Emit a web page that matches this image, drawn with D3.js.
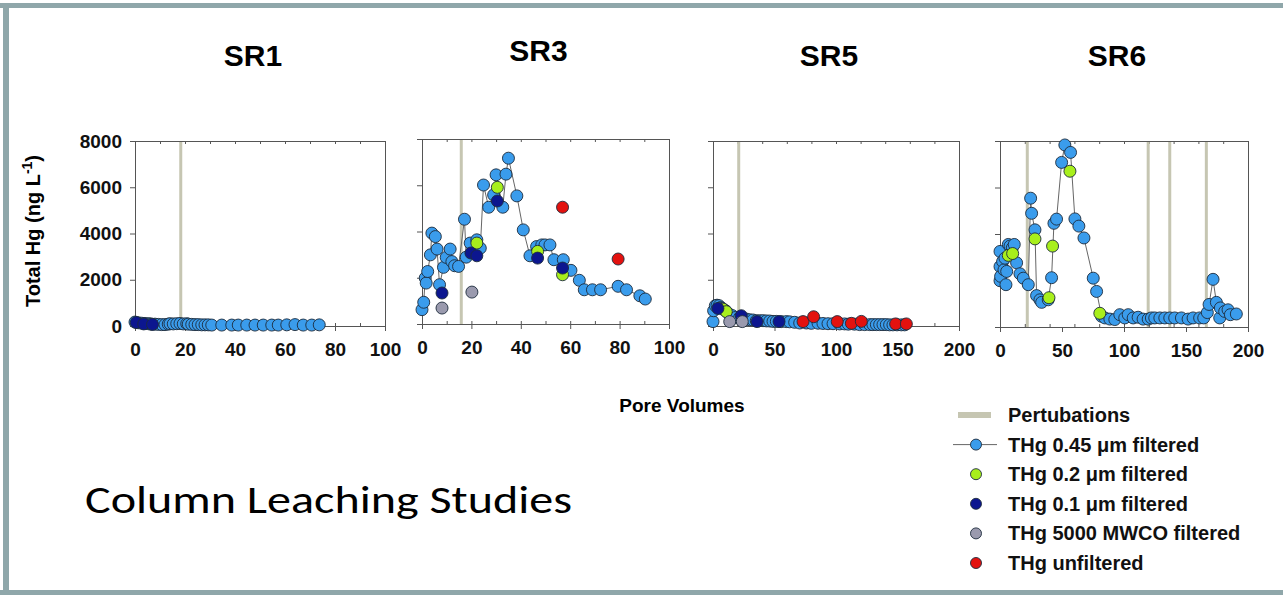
<!DOCTYPE html>
<html>
<head>
<meta charset="utf-8">
<script src="https://cdn.jsdelivr.net/npm/d3@7"></script>
<style>
  body { margin: 0; background: #fff; }
  svg { display: block; font-family: "Liberation Sans", Arial, sans-serif; }
</style>
</head>
<body>
<div id="chart"></div>
<script>
// ---- data: [pore volumes, THg ng/L] ----
const sr1_045 = [[0,170],[1.3,140],[2.7,120],[4,110],[5.3,100],[6,90],[6.7,80],[8,80],[9.3,70],[10.7,60],[12,60],[13.3,80],[14,100],[15.3,90],[16.7,100],[18,110],[19.3,90],[20.7,100],[21.3,80],[22.7,70],[24,60],[25.3,60],[26.7,50],[28,50],[29.3,50],[30.7,40],[34.7,40],[38.7,40],[41.3,40],[44.7,40],[48,40],[51.3,40],[54.7,40],[57.3,40],[60.7,50],[64,60],[67.3,40],[70.7,40],[73.7,50]];
const sr1_01 = [[0.5,150],[3.5,90],[7,70]];
const sr1_pert = [18.3];

const sr3_045 = [[0,620],[0.7,940],[1.3,1990],[1.7,1770],[2.3,2270],[3.4,2990],[4,3930],[5.4,3780],[6.1,3240],[7.1,1700],[8.7,2450],[9.8,2880],[11.4,3240],[12.1,2700],[13.2,2520],[14.8,2490],[17.2,4530],[17.9,2890],[19.5,3500],[22.2,3640],[23.6,3280],[24.9,6010],[27,5050],[29,5580],[30,6450],[32.7,5050],[34,6480],[35,7170],[38.4,5540],[41,4070],[43.7,2950],[46.4,3350],[48.5,3420],[49.8,3420],[51.8,3420],[53.4,2780],[57.2,2780],[60.3,2320],[63.7,1890],[65.7,1480],[69,1480],[72.3,1480],[79.4,1630],[82.8,1480],[88.2,1220],[90.4,1080]];
const sr3_02 = [[22.2,3500],[30.5,5910],[46.8,3140],[56.9,2130]];
const sr3_01 = [[8.1,1340],[19.8,3070],[22.2,2950],[30.5,5320],[46.8,2850],[56.9,2420]];
const sr3_5000 = [[8.1,690],[20.2,1380]];
const sr3_unf = [[56.9,5050],[79.4,2810]];
const sr3_pert = [15.9];

const sr5_045 = [[0,190],[0.5,660],[1.9,880],[3.3,900],[4.9,880],[6.2,800],[7.6,760],[10.3,660],[13,520],[15.7,450],[18.4,370],[21.7,370],[24.4,330],[27.1,300],[29.8,270],[32.5,260],[35.2,230],[38,230],[40.7,230],[43.4,220],[46.1,215],[48.8,200],[51.5,200],[55.6,190],[59.6,190],[62.3,180],[66.4,160],[70.5,130],[75.9,130],[79.9,115],[85.4,120],[89.4,110],[93.5,100],[97.6,100],[103,90],[107,90],[110,80],[115,80],[119.2,60],[123.3,60],[127.4,60],[130,60],[132.8,60],[135.5,60],[138.2,60],[140.9,60],[143.6,50],[146.3,50],[149.6,50],[153.1,50],[155.8,50]];
const sr5_02 = [[8.1,730],[10.8,620]];
const sr5_01 = [[4,760],[23,445],[35.8,190],[53.7,190]];
const sr5_5000 = [[13.6,190],[23.8,190]];
const sr5_unf = [[73.2,190],[81.8,400],[101,190],[112.5,115],[120.6,200],[148.5,90],[157.2,90]];
const sr5_pert = [20.9];

const sr6_045 = [[0,3250],[0,1990],[0,2600],[0.5,2180],[2.1,2820],[3.2,2460],[4,2960],[4.8,1820],[5.4,2390],[6.7,3550],[8.1,3480],[9.9,3400],[11.5,3550],[13.4,2760],[16.1,2290],[18.8,2100],[22.8,1820],[24.7,5540],[25.5,4890],[28.2,4180],[29.5,1350],[32.2,1170],[33.6,1060],[38.9,1170],[41.6,2120],[43.5,4460],[45.6,4640],[49.7,7080],[52.3,7830],[56.9,7510],[60.4,4650],[63.6,4340],[67.7,3830],[75.2,2100],[77.9,1530],[81.9,460],[84.6,390],[88.6,340],[92.6,320],[96.6,530],[100.6,390],[103.4,530],[107.4,390],[111.4,420],[115.4,340],[119.5,340],[122.1,390],[124.8,390],[128.9,390],[132.9,390],[136.9,390],[140.9,390],[146.3,390],[151.7,340],[155.7,390],[161,390],[164.3,390],[167.2,620],[168.6,970],[171.8,2050],[174.5,1060],[177.2,390],[177.7,820],[181.2,670],[183.9,740],[185.8,530],[190.6,560]];
const sr6_02 = [[6.7,3080],[10.2,3160],[28.2,3790],[39.5,1260],[42.4,3480],[56.4,6700],[80.5,590]];
const sr6_pert = [22, 119.5, 136.9, 166.4];

const yTicks = [0, 2000, 4000, 6000, 8000];
const xTicks100 = [0, 20, 40, 60, 80, 100];
const xTicks200 = [0, 50, 100, 150, 200];
const legendLabels = ['Pertubations', 'THg 0.45 \u03bcm filtered', 'THg 0.2 \u03bcm filtered',
  'THg 0.1 \u03bcm filtered', 'THg 5000 MWCO filtered', 'THg unfiltered'];

// ---- styles ----
const colors = { f045: '#3a9cec', f02: '#a8ef1c', f01: '#0c168f', f5000: '#9a9aae', unf: '#e3120f' };
const pertColor = '#c6c6b2';

const W = 1283, H = 595;
const svg = d3.select('#chart').append('svg').attr('width', W).attr('height', H);

// slide frame
svg.append('rect').attr('x', 0).attr('y', 3).attr('width', W).attr('height', 5).attr('fill', '#8fa7aa');
svg.append('rect').attr('x', 3).attr('y', 3).attr('width', 6).attr('height', H - 3).attr('fill', '#8fa7aa');
svg.append('rect').attr('x', 0).attr('y', 590).attr('width', W).attr('height', 5).attr('fill', '#8fa7aa');

const panels = [
  { name: 'SR1', left: 135, right: 385, top: 141, bottom: 326, xMax: 100, ticks: xTicks100, minor: 10, titleY: 66,
    pert: sr1_pert, main: sr1_045, extra: [[sr1_01, colors.f01]] },
  { name: 'SR3', left: 422, right: 669, top: 139, bottom: 324, xMax: 100, ticks: xTicks100, minor: 10, titleY: 61,
    pert: sr3_pert, main: sr3_045,
    extra: [[sr3_02, colors.f02], [sr3_01, colors.f01], [sr3_5000, colors.f5000], [sr3_unf, colors.unf]] },
  { name: 'SR5', left: 713, right: 959, top: 141, bottom: 326, xMax: 200, ticks: xTicks200, minor: 20, titleY: 66,
    pert: sr5_pert, main: sr5_045,
    extra: [[sr5_02, colors.f02], [sr5_01, colors.f01], [sr5_5000, colors.f5000], [sr5_unf, colors.unf]] },
  { name: 'SR6', left: 1000, right: 1248, top: 141, bottom: 327, xMax: 200, ticks: xTicks200, minor: 20, titleY: 66,
    pert: sr6_pert, main: sr6_045, extra: [[sr6_02, colors.f02]] }
];

function drawPanel (p, i) {
  const x = d3.scaleLinear().domain([0, p.xMax]).range([p.left, p.right]);
  const y = d3.scaleLinear().domain([0, 8000]).range([p.bottom, p.top]);
  const g = svg.append('g').attr('class', 'panel');

  // frame top + right
  g.append('g').attr('transform', 'translate(0,' + p.top + ')')
    .call(d3.axisTop(x).tickValues(d3.range(0, p.xMax + 1, p.minor)).tickSize(-3).tickFormat(''));
  g.append('g').attr('transform', 'translate(' + p.right + ',0)')
    .call(d3.axisRight(y).tickValues(yTicks).tickSize(0).tickFormat(''));

  // perturbation lines
  g.selectAll('line.pert').data(p.pert).enter().append('line')
    .attr('class', 'pert')
    .attr('x1', d => x(d)).attr('x2', d => x(d))
    .attr('y1', p.top + 1).attr('y2', p.bottom)
    .attr('stroke', pertColor).attr('stroke-width', 3);

  // bottom axis
  const xa = g.append('g').attr('transform', 'translate(0,' + p.bottom + ')')
    .call(d3.axisBottom(x).tickValues(p.ticks).tickSizeInner(5).tickSizeOuter(0).tickPadding(12));
  xa.append('g').call(d3.axisTop(x).tickValues(d3.range(0, p.xMax + 1, p.minor)).tickSize(3).tickFormat(''))
    .select('.domain').remove();

  // left axis
  g.append('g').attr('transform', 'translate(' + p.left + ',0)')
    .call(d3.axisLeft(y).tickValues(yTicks).tickSizeInner(5).tickSizeOuter(0).tickPadding(8)
      .tickFormat(i === 0 ? d3.format('d') : ''));

  g.selectAll('.domain, .tick line').attr('stroke', '#555');
  g.selectAll('.tick text').attr('font-size', 19).attr('font-weight', 'bold').attr('fill', '#111')
    .attr('font-family', null);

  // 0.45 um series: line + points
  const line = d3.line().x(d => x(d[0])).y(d => y(d[1]));
  g.append('path').datum(p.main).attr('d', line)
    .attr('fill', 'none').attr('stroke', '#666').attr('stroke-width', 1);

  const series = [[p.main, colors.f045]].concat(p.extra);
  series.forEach(function (s, k) {
    g.selectAll('circle.s' + k).data(s[0]).enter().append('circle')
      .attr('class', 's' + k)
      .attr('cx', d => x(d[0])).attr('cy', d => y(d[1])).attr('r', 6)
      .attr('fill', s[1]).attr('stroke', '#1d2b3c').attr('stroke-width', 0.9);
  });

  // title
  svg.append('text').attr('x', (p.left + p.right) / 2 - 7).attr('y', p.titleY)
    .attr('text-anchor', 'middle').attr('font-size', 30).attr('font-weight', 'bold').text(p.name);
}

panels.forEach(drawPanel);

// y axis title
const yt = svg.append('text').attr('transform', 'translate(40,231) rotate(-90)')
  .attr('text-anchor', 'middle').attr('font-size', 20).attr('font-weight', 'bold');
yt.append('tspan').text('Total Hg (ng L');
yt.append('tspan').attr('font-size', 14).attr('dy', -8).text('-1');
yt.append('tspan').attr('dy', 8).text(')');

// x axis title
svg.append('text').attr('x', 682).attr('y', 412).attr('text-anchor', 'middle')
  .attr('font-size', 19).attr('font-weight', 'bold').text('Pore Volumes');

// legend
const legendY = d3.scalePoint().domain(legendLabels).range([415, 563]);
const legendSym = [null, colors.f045, colors.f02, colors.f01, colors.f5000, colors.unf];
const lg = svg.append('g').attr('class', 'legend');
legendLabels.forEach(function (lab, i) {
  const yy = legendY(lab);
  if (i === 0) {
    lg.append('rect').attr('x', 958).attr('y', yy - 3).attr('width', 33).attr('height', 6).attr('fill', pertColor);
  } else {
    if (i === 1) {
      lg.append('line').attr('x1', 953).attr('x2', 997).attr('y1', yy).attr('y2', yy)
        .attr('stroke', '#666').attr('stroke-width', 1);
    }
    lg.append('circle').attr('cx', 976).attr('cy', yy).attr('r', 5.5)
      .attr('fill', legendSym[i]).attr('stroke', '#1d2b3c').attr('stroke-width', 0.9);
  }
  lg.append('text').attr('x', 1008).attr('y', yy + 7).attr('font-size', 20).attr('font-weight', 'bold')
    .attr('fill', '#111').text(lab);
});

// slide caption
svg.append('text').attr('x', 85).attr('y', 513)
  .style('font-family', 'Carlito, "Open Sans", sans-serif').attr('font-size', 38)
  .attr('textLength', 487).attr('lengthAdjust', 'spacingAndGlyphs')
  .text('Column Leaching Studies');
</script>
</body>
</html>
